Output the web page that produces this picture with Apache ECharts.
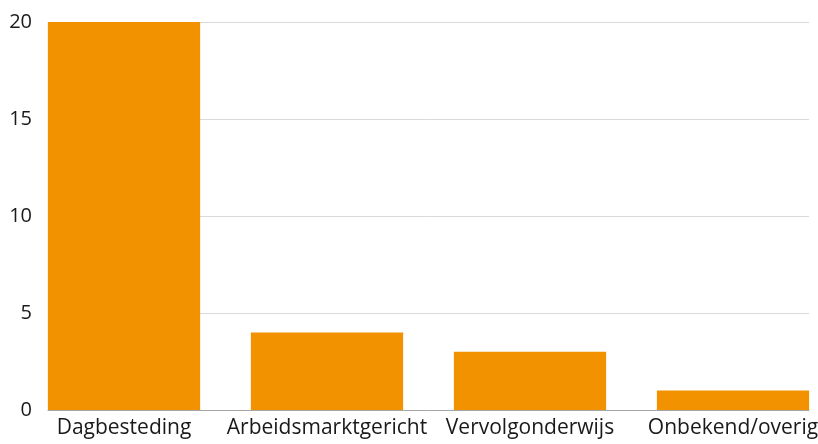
<!DOCTYPE html>
<html>
<head>
<meta charset="utf-8">
<script src="https://cdn.jsdelivr.net/npm/echarts@6/dist/echarts.min.js"></script>
<style>
  html, body { margin: 0; padding: 0; background: #fff; }
  #chart { width: 818px; height: 444px; }
</style>
</head>
<body>
<div id="chart"></div>
<script>
  var categories = ['Dagbesteding', 'Arbeidsmarktgericht', 'Vervolgonderwijs', 'Onbekend/overig'];
  var values = [20, 4, 3, 1];
  var yMin = 0, yMax = 20, yStep = 5;

  var chart = echarts.init(document.getElementById('chart'));
  // grid 0: gridlines, y labels and the base line (plot 48..809)
  // grid 1: the bars, widened so the outer bars sit flush with the plot edges
  chart.setOption({
    animation: false,
    textStyle: { fontFamily: 'Open Sans' },
    grid: [
      { left: 48, right: 9, top: 22, bottom: 34, outerBoundsMode: 'none' },
      { left: 22.5, width: 812, top: 22, bottom: 34, outerBoundsMode: 'none' }
    ],
    xAxis: [{
      gridIndex: 0,
      type: 'category',
      data: categories,
      axisLine: { lineStyle: { color: '#a6a6a6', width: 1 } },
      axisTick: { show: false },
      axisLabel: { show: false }
    }, {
      gridIndex: 1,
      type: 'category',
      data: categories,
      axisLine: { show: false },
      axisTick: { show: false },
      axisLabel: { interval: 0, color: '#1a1a1a', fontSize: 21, margin: 8, fontFamily: 'Open Sans' }
    }],
    yAxis: [{
      gridIndex: 0,
      type: 'value',
      min: yMin,
      max: yMax,
      interval: yStep,
      axisLine: { show: false },
      axisTick: { show: false },
      splitLine: { lineStyle: { color: '#d9d9d9', width: 1 } },
      axisLabel: { color: '#1a1a1a', fontSize: 20, margin: 16, fontFamily: 'Open Sans' }
    }, {
      gridIndex: 1,
      type: 'value',
      min: yMin,
      max: yMax,
      interval: yStep,
      show: false
    }],
    series: [{
      type: 'bar',
      xAxisIndex: 1,
      yAxisIndex: 1,
      data: values,
      barCategoryGap: '25%',
      itemStyle: { color: '#f39200' }
    }]
  });
</script>
</body>
</html>
